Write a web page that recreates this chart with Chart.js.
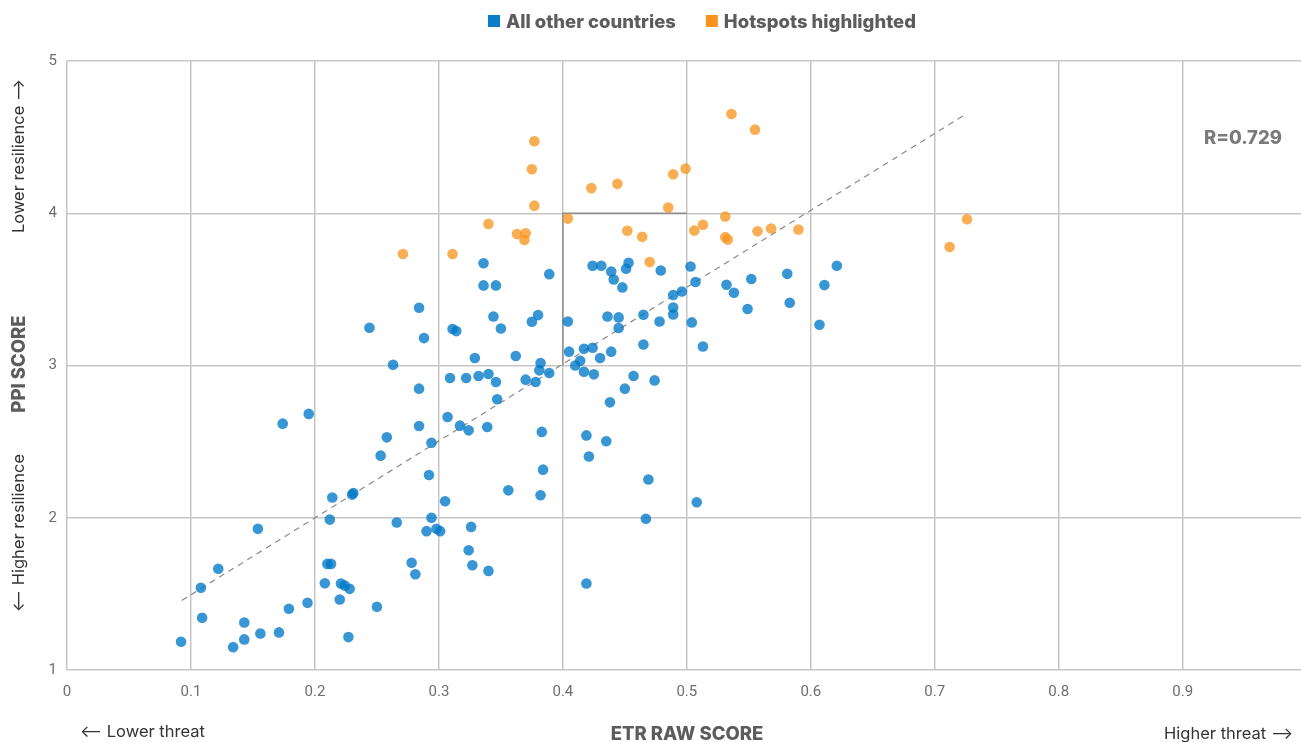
<!DOCTYPE html>
<html>
<head>
<meta charset="utf-8">
<script src="https://cdn.jsdelivr.net/npm/chart.js@4/dist/chart.umd.min.js"></script>
<style>
  html, body { margin: 0; padding: 0; background: #fff; overflow: hidden; }
  #wrap { width: 1307px; height: 742px; position: relative; }
</style>
</head>
<body>
<div id="wrap"><canvas id="chart"></canvas></div>
<script>
// ETR raw score (x) and PPI score (y)
const otherX = [0.092, 0.108, 0.109, 0.122, 0.134, 0.143, 0.143, 0.154, 0.156, 0.171, 0.179, 0.194, 0.208, 0.210, 0.213, 0.212, 0.214, 0.220, 0.221, 0.224, 0.228, 0.227, 0.250, 0.266, 0.278, 0.281, 0.290, 0.294, 0.298, 0.301, 0.305, 0.230, 0.231, 0.292, 0.356, 0.382, 0.384, 0.326, 0.324, 0.327, 0.340, 0.419, 0.467, 0.508,
  0.284, 0.244, 0.288, 0.263, 0.284, 0.309, 0.195, 0.174, 0.284, 0.307, 0.258, 0.294, 0.253,
  0.336, 0.389, 0.336, 0.346, 0.344, 0.350, 0.375, 0.380, 0.311, 0.314, 0.329, 0.362, 0.382, 0.381, 0.389, 0.322, 0.332, 0.340, 0.346, 0.370, 0.378, 0.347, 0.317, 0.324, 0.339, 0.383,
  0.404, 0.424, 0.431, 0.439, 0.441, 0.451, 0.453, 0.448, 0.479, 0.503, 0.507, 0.532, 0.489, 0.496, 0.489, 0.489, 0.436, 0.445, 0.445, 0.465, 0.478, 0.504, 0.513, 0.465, 0.405, 0.417, 0.424, 0.439, 0.430, 0.414, 0.410, 0.417, 0.425, 0.457, 0.474, 0.450, 0.438, 0.419, 0.435, 0.421, 0.469,
  0.538, 0.552, 0.581, 0.583, 0.549, 0.611, 0.621, 0.607];
const otherY = [1.186, 1.540, 1.343, 1.665, 1.150, 1.312, 1.201, 1.927, 1.240, 1.247, 1.402, 1.441, 1.570, 1.697, 1.697, 1.988, 2.133, 1.463, 1.568, 1.555, 1.533, 1.216, 1.415, 1.969, 1.704, 1.629, 1.912, 2.000, 1.927, 1.912, 2.108, 2.152, 2.163, 2.281, 2.180, 2.148, 2.316, 1.940, 1.787, 1.688, 1.651, 1.568, 1.993, 2.102,
  3.379, 3.248, 3.180, 3.005, 2.848, 2.918, 2.682, 2.618, 2.603, 2.662, 2.528, 2.493, 2.408,
  3.672, 3.600, 3.526, 3.526, 3.322, 3.243, 3.287, 3.331, 3.240, 3.226, 3.049, 3.062, 3.016, 2.968, 2.951, 2.918, 2.931, 2.944, 2.892, 2.907, 2.892, 2.778, 2.605, 2.574, 2.596, 2.564,
  3.289, 3.655, 3.655, 3.617, 3.565, 3.635, 3.675, 3.513, 3.624, 3.650, 3.548, 3.530, 3.463, 3.486, 3.381, 3.335, 3.322, 3.316, 3.246, 3.333, 3.289, 3.283, 3.125, 3.138, 3.091, 3.110, 3.117, 3.091, 3.049, 3.031, 3.000, 2.959, 2.942, 2.931, 2.902, 2.848, 2.758, 2.541, 2.502, 2.402, 2.251,
  3.478, 3.568, 3.602, 3.412, 3.371, 3.528, 3.655, 3.268];

const hotX = [0.377, 0.375, 0.377, 0.423, 0.444, 0.489, 0.499, 0.485, 0.536, 0.555, 0.404, 0.340, 0.363, 0.370, 0.369, 0.452, 0.464, 0.506, 0.513, 0.531, 0.531, 0.533, 0.557, 0.568, 0.590, 0.726, 0.712, 0.470, 0.271, 0.311];
const hotY = [4.473, 4.289, 4.050, 4.165, 4.193, 4.256, 4.293, 4.037, 4.652, 4.549, 3.965, 3.930, 3.863, 3.869, 3.825, 3.885, 3.845, 3.886, 3.924, 3.978, 3.843, 3.827, 3.882, 3.900, 3.893, 3.961, 3.778, 3.679, 3.732, 3.732];

// fitted line ends, and the reference box corner
const trendX = [0.0926, 0.7253];
const trendY = [1.457, 4.652];
const boxX = [0.5, 0.4, 0.4];
const boxY = [4, 4, 3];

const xTicks = [0, 0.1, 0.2, 0.3, 0.4, 0.5, 0.6, 0.7, 0.8, 0.9];
const yTicks = [1, 2, 3, 4, 5];
const rLabel = 'R=0.729';

const pts = (xs, ys) => xs.map((x, i) => ({ x: x, y: ys[i] }));

const BLUE = '#0a7dc8';
const ORANGE = '#f7941d';
const GRID = '#c6c6c6';
const BOLD = '800 18.5px Inter, "Open Sans", sans-serif';
const SMALL = '16.5px Inter, "Open Sans", sans-serif';

const annotate = {
  id: 'annotate',
  afterDraw(chart) {
    const ctx = chart.ctx;
    ctx.save();
    // legend
    ctx.textBaseline = 'middle';
    ctx.font = BOLD;
    let lx = 488;
    const ly = 21;
    [['All other countries', BLUE], ['Hotspots highlighted', ORANGE]].forEach(([txt, col]) => {
      ctx.fillStyle = col;
      ctx.fillRect(lx, ly - 6, 12, 12);
      ctx.fillStyle = '#5c5c5c';
      ctx.textAlign = 'left';
      ctx.fillText(txt, lx + 18, ly + 1);
      lx += 18 + ctx.measureText(txt).width + 30;
    });

    // correlation
    ctx.fillStyle = '#7a7a7a';
    ctx.textAlign = 'center';
    ctx.fillText(rLabel, 1243, 138);

    // x axis captions
    ctx.fillStyle = '#5c5c5c';
    ctx.fillText('ETR RAW SCORE', 687, 734);
    ctx.font = SMALL;
    ctx.fillStyle = '#333';
    ctx.textAlign = 'left';
    ctx.fillText('\u27f5 Lower threat', 80, 732);
    ctx.textAlign = 'right';
    ctx.fillText('Higher threat \u27f6', 1293, 734);

    // y axis captions
    ctx.translate(19, 0);
    ctx.rotate(-Math.PI / 2);
    ctx.textAlign = 'center';
    ctx.fillText('Lower resilience \u27f6', -156, 0);
    ctx.fillText('\u27f5 Higher resilience', -533, 0);
    ctx.font = BOLD;
    ctx.fillStyle = '#5c5c5c';
    ctx.fillText('PPI SCORE', -364, 0);
    ctx.restore();
  }
};

new Chart(document.getElementById('chart'), {
  type: 'scatter',
  data: {
    datasets: [
      {
        label: 'All other countries',
        data: pts(otherX, otherY),
        backgroundColor: 'rgba(0,120,200,0.78)',
        borderWidth: 0,
        pointRadius: 5.3,
        order: 2
      },
      {
        label: 'Hotspots highlighted',
        data: pts(hotX, hotY),
        backgroundColor: 'rgba(247,148,29,0.76)',
        borderWidth: 0,
        pointRadius: 5.3,
        order: 1
      },
      {
        label: 'trend',
        data: pts(trendX, trendY),
        showLine: true,
        pointRadius: 0,
        borderColor: '#8a8a8a',
        borderWidth: 1.2,
        borderDash: [6, 5],
        order: 10
      },
      {
        label: 'box',
        data: pts(boxX, boxY),
        showLine: true,
        pointRadius: 0,
        borderColor: '#8c8c8c',
        borderWidth: 1.5,
        order: 9
      }
    ]
  },
  options: {
    responsive: true,
    maintainAspectRatio: false,
    animation: false,
    layout: { padding: { top: 61, right: 0, bottom: 0, left: 0 } },
    plugins: {
      legend: { display: false },
      tooltip: { enabled: false }
    },
    scales: {
      x: {
        type: 'linear',
        min: 0,
        max: 0.996,
        afterBuildTicks: (s) => { s.ticks = xTicks.map(v => ({ value: v })); },
        afterFit: (s) => { s.height = 72; },
        grid: { color: GRID, lineWidth: 1.5, drawTicks: false },
        border: { display: false },
        ticks: {
          padding: 13,
          color: '#6e6e6e',
          font: { family: 'Roboto', size: 15 },
          callback: (v) => String(Math.round(v * 10) / 10)
        }
      },
      y: {
        min: 1,
        max: 5,
        afterBuildTicks: (s) => { s.ticks = yTicks.map(v => ({ value: v })); },
        afterFit: (s) => { s.width = 67; },
        grid: { color: GRID, lineWidth: 1.5, drawTicks: false },
        border: { display: false },
        ticks: {
          padding: 10,
          color: '#6e6e6e',
          font: { family: 'Roboto', size: 15 }
        }
      }
    }
  },
  plugins: [annotate]
});
</script>
</body>
</html>
